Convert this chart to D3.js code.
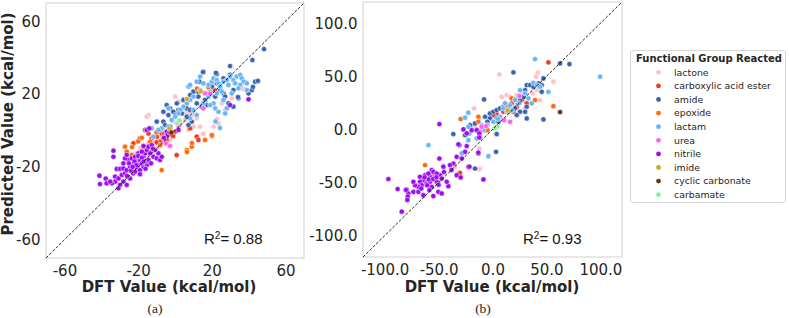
<!DOCTYPE html>
<html>
<head>
<meta charset="utf-8">
<script src="https://cdn.jsdelivr.net/npm/d3@7"></script>
<style>
  body { margin: 0; background: #fff; }
  svg { display: block; }
</style>
</head>
<body>
<div id="chart"></div>
<script>
// legend order of the hue groups
const groups = ["lactone", "carboxylic acid ester", "amide", "epoxide", "lactam",
                "urea", "nitrile", "imide", "cyclic carbonate", "carbamate"];
const palette = ["#ffc0cb", "#ef3b26", "#3a62ad", "#ff6a0a", "#66b5f6",
                 "#ff5ef2", "#9a0ef0", "#daa520", "#6b3510", "#90ee90"];

// panel (a): [DFT value, predicted value]
const aLactone = [[-14.4,8.5],[0.1,18.6],[1.9,15.8],[4.6,12.2],[6.4,10.3],[8.2,9.4],[10.0,8.5],[11.8,6.7],
  [5.5,5.8],[2.8,3.9],[-0.9,4.9],[-5.4,-0.6],[-7.2,-3.4],[-9.9,-5.2],[-12.6,-6.1],[-14.4,-7.0],[-17.1,-8.0],
  [-19.0,-9.8],[13.6,2.1],[15.4,-1.6],[20.9,2.1],[23.6,3.9],[37.2,23.2],[30.8,17.7],[25.4,14.9],[27.2,11.3],
  [-15.3,7.6],[10.0,2.1],[7.3,0.3],[-2.7,-5.2],[-4.5,-7.0],[-9.0,-8.9],[-11.7,-12.5],[-14.4,-14.4],
  [15.2,-1.9],[-26.0,-15.1],[-22.0,-13.0],[-18.0,-18.0],[36.9,22.8],[22.8,6.3]];
const aEster = [[-16.2,0.3],[-14.4,-1.6],[-22.6,-7.0],[-19.0,-4.3],[-12.6,-4.3],[-9.9,-3.4],[-8.1,-6.1],
  [-6.3,-4.3],[-4.5,-5.2],[-1.8,-2.5],[0.1,-0.6],[-2.7,1.2],[-7.2,-1.6],[8.2,1.2],[11.8,-3.4],[12.7,-5.2],
  [0.9,-13.5],[24.4,22.2],[21.5,22.0],[20.1,-3.0],[-10.0,-6.5],[-6.0,-2.0],[-1.0,-3.0]];
const aAmide = [[29.9,35.4],[42.0,38.7],[22.7,31.0],[15.4,32.3],[13.3,26.8],[10.0,21.3],[8.2,19.5],[12.7,18.6],
  [16.3,16.8],[19.1,20.4],[21.8,18.6],[24.5,22.2],[26.3,20.4],[27.2,18.6],[31.7,22.2],[34.4,17.7],[31.7,13.1],
  [29.0,14.9],[39.9,20.4],[41.7,22.2],[43.5,26.8],[-4.5,14.0],[-2.7,12.2],[-0.9,10.3],[-6.3,10.3],[-3.6,8.5],
  [0.1,8.5],[1.9,11.3],[3.7,9.4],[6.4,7.6],[9.1,4.9],[7.3,3.0],[-6.3,4.9],[-5.4,3.0],[-2.7,2.1],[-9.9,4.9],
  [-8.1,0.3],[1.0,14.9],[4.6,16.8],[11.8,14.9],[14.5,13.1],[17.3,14.0],[6.4,12.2],[8.2,11.3],[12.7,21.3],
  [20.0,24.1],[22.7,25.9],[26.3,28.6],[48.3,44.7],[38.0,26.6],[45.0,27.2],[42.3,23.9],[34.2,18.4],[29.8,30.5],
  [15.2,32.1],[22.2,31.6]];
const aEpoxide = [[-27.1,-8.9],[-26.2,-11.6],[-23.5,-13.4],[-17.1,-10.7],[-15.3,-9.8],[-13.5,-6.1],[-12.6,-8.9],
  [-11.7,-10.7],[-7.2,-21.7],[6.4,-10.7],[9.1,-8.9],[16.3,-5.2],[20.0,-2.5],[-20.0,-6.0],[-18.0,-4.0],
  [-10.0,-1.0],[-5.0,-3.0],[-22.0,-15.0],[-14.0,-12.0],[-8.0,-8.0],[18.2,23.7],[12.0,23.0],[6.5,-11.8],
  [9.2,-6.9],[-23.3,-9.1]];
const aLactam = [[7.3,24.1],[8.2,25.0],[11.8,26.8],[13.6,29.6],[15.4,25.9],[18.2,25.0],[20.0,26.8],[20.9,28.6],
  [22.7,27.7],[23.6,25.9],[24.5,24.1],[26.3,26.8],[28.1,27.7],[29.9,29.6],[31.7,27.7],[33.5,29.6],[35.4,30.5],
  [36.3,28.6],[37.2,26.8],[32.6,25.9],[29.0,25.0],[25.4,21.3],[22.7,20.4],[19.1,21.3],[17.3,20.4],[13.6,22.2],
  [10.0,18.6],[8.2,16.8],[6.4,14.9],[4.6,13.1],[2.8,11.3],[1.9,9.4],[0.1,7.6],[-1.8,5.8],[-3.6,2.1],[-7.2,1.2],
  [-9.0,0.3],[-11.7,-3.4],[-12.6,1.2],[18.2,18.6],[20.9,14.9],[21.8,12.2],[23.6,10.3],[28.1,12.2],[27.2,9.4],
  [15.4,14.9],[10.0,11.3],[39.0,22.2],[39.0,25.9],[-3.6,12.2],[35.4,25.0],[8.2,6.7],[11.8,8.5],[30.8,20.4],
  [34.4,23.2],[26.3,16.8],[19.1,14.0],[24.4,1.4],[22.0,5.0]];
const aUrea = [[16.3,20.4],[15.4,12.2],[19.0,20.3],[-2.7,-8.5],[-5.0,-7.0],[2.0,2.5]];
const aNitrile = [[-33.4,-11.1],[-33.4,-14.4],[-41.0,-24.8],[-40.7,-29.4],[-37.6,-26.4],[-37.1,-29.0],
  [-31.6,-21.1],[-29.8,-21.1],[-28.0,-20.8],[-32.5,-25.3],[-32.5,-28.1],[-30.7,-26.3],[-28.9,-24.4],
  [-27.1,-23.5],[-26.2,-21.7],[-24.4,-19.9],[-22.6,-18.9],[-25.3,-16.2],[-23.5,-15.3],[-21.7,-14.4],
  [-20.8,-17.1],[-19.0,-16.2],[-17.1,-14.4],[-16.2,-12.5],[-15.3,-10.7],[-19.9,-12.5],[-18.0,-11.6],
  [-14.4,-8.9],[-12.6,-8.0],[-13.5,-12.5],[-11.7,-14.4],[-9.9,-15.3],[-9.0,-12.5],[-10.8,-10.7],[-8.1,-16.2],
  [-7.2,-14.4],[-20.8,-20.8],[-19.0,-21.7],[-17.1,-19.9],[-15.3,-18.9],[-22.6,-23.5],[-24.4,-26.3],
  [-28.0,-28.1],[-29.8,-29.9],[-30.7,-31.7],[-34.3,-29.0],[-35.2,-28.1],[-26.2,-29.9],[-23.5,-21.7],
  [-21.7,-22.6],[-19.9,-18.9],[-18.0,-18.0],[-16.2,-17.1],[-14.4,-16.2],[-28.0,-18.0],[-27.1,-15.3],
  [-26.2,-13.4],[-17.1,-8.5],[-15.3,0.3],[-13.9,1.2],[-4.5,-0.6],[-4.1,-2.5],[1.9,0.3],[29.9,14.0],
  [39.9,17.1],[-6.0,-4.0],[-3.0,-1.0],[-22.0,-17.0],[-20.0,-14.0],[-18.0,-15.0],[-24.0,-22.0],[-26.0,-25.0],
  [-21.0,-19.0],[-23.0,-20.0],[-17.0,-17.0],[-25.0,-18.0],[-19.0,-24.0],[-16.0,-21.0],[-13.0,-18.0],
  [-12.0,-10.0]];
const aImide = [[6.5,17.3],[14.0,21.5],[-3.0,1.0]];
const aCarbonate = [[-2.0,-1.0]];
const aCarbamate = [[1.2,4.0],[2.5,5.5]];

// panel (b): [DFT value, predicted value]
const bLactone = [[6.4,51.9],[41.9,53.5],[56.4,45.0],[-17.1,19.9],[8.5,30.8],[13.2,32.4],[16.3,30.8],
  [22.5,32.4],[27.1,34.0],[37.3,34.0],[41.0,37.1],[44.1,27.7],[40.4,49.7],[-12.2,-17.8],[-11.5,-36.7],
  [-34.7,-35.1],[-48.6,-47.7],[-16.2,2.6],[12.0,25.0],[20.0,23.0],[28.0,28.0],[30.0,20.0],[-12.5,-37.5]];
const bEster = [[51.8,63.2],[3.9,14.5],[0.8,13.6],[10.1,16.7],[14.7,16.7],[17.8,24.6],[22.5,21.4],
  [27.1,27.7],[19.4,16.7],[31.7,24.6],[-30.1,-40.8],[-54.8,-41.4]];
const bAmide = [[71.3,61.6],[62.6,62.2],[19.4,53.8],[-7.8,28.3],[-36.3,-4.3],[3.3,-21.0],[-20.8,4.1],
  [-16.2,5.7],[47.2,9.5],[-2.3,15.1],[0.8,16.7],[3.9,18.3],[7.0,19.9],[10.1,21.4],[14.7,19.9],[17.8,18.3],
  [20.9,19.9],[24.0,24.6],[25.5,27.7],[28.7,30.8],[30.2,37.1],[31.7,41.8],[34.8,41.8],[37.9,40.3],[42.5,43.4],
  [45.6,41.8],[47.2,48.1],[45.6,35.5],[31.7,21.4],[30.2,16.7],[25.5,16.7],[22.5,13.6],[31.7,10.4],[3.9,10.4],
  [5.5,7.3],[-2.3,10.4],[-4.7,7.3],[-6.9,-0.6],[3.9,-4.3],[-25.4,-5.3],[-16.2,-36.7],[-6.9,12.0]];
const bEpoxide = [[-29.5,9.8],[-13.1,12.0],[-13.1,7.3],[-4.7,-0.6],[17.8,29.3],[20.9,28.3],[39.4,27.7],
  [56.4,22.0],[-62.5,-33.5],[-45.5,-34.5],[-55.4,-42.0],[13.2,23.0]];
const bLactam = [[39.4,66.3],[99.7,49.7],[-59.4,-14.7],[-22.4,15.8],[-25.4,11.1],[-22.4,2.6],[-21.4,-3.7],
  [-22.4,-10.0],[-14.6,-8.4],[-10.0,4.1],[-8.4,-0.6],[-4.7,4.1],[-3.8,-25.1],[11.6,24.6],[16.3,23.0],
  [20.9,27.7],[25.5,37.1],[30.2,34.0],[37.9,44.0],[41.0,41.8],[44.1,40.3],[51.8,35.5],[33.3,29.3],[36.4,24.6],
  [13.2,16.7],[7.0,12.0],[0.8,7.3],[-11.5,-6.8],[-28.5,-22.5],[10.0,20.0],[18.0,18.0],[25.0,25.0],[5.0,10.0]];
const bUrea = [[-10.0,2.6],[-6.0,3.2],[-11.5,-2.1],[16.3,7.3],[24.9,31.5],[10.7,8.9]];
const bNitrile = [[-49.2,5.1],[-27.0,0.1],[-23.9,-3.7],[-19.3,-0.6],[-14.6,-0.6],[-12.2,-3.7],[-30.7,-14.7],
  [-23.9,-15.6],[-25.4,-21.0],[-33.2,-25.7],[-28.5,-27.3],[-36.3,-32.0],[-39.4,-33.5],[-45.5,-35.1],
  [-49.2,-27.3],[-56.3,-38.2],[-48.6,-43.0],[-53.3,-44.5],[-57.9,-44.5],[-61.0,-46.1],[-64.1,-47.7],
  [-67.2,-49.2],[-67.2,-44.5],[-62.5,-43.0],[-59.4,-41.4],[-54.8,-39.8],[-51.7,-41.4],[-65.6,-52.4],
  [-68.7,-53.9],[-71.8,-52.4],[-73.3,-49.2],[-79.5,-56.5],[-78.0,-60.2],[-73.3,-58.7],[-68.7,-58.7],
  [-64.1,-61.8],[-54.8,-62.7],[-50.2,-58.7],[-47.1,-60.2],[-40.9,-53.3],[-42.4,-49.2],[-33.2,-43.0],
  [-29.5,-45.1],[-22.4,-35.1],[-8.4,-47.0],[-13.1,-22.5],[-12.2,-7.5],[-61.0,-50.8],[-57.9,-49.2],
  [-56.3,-54.0],[-51.7,-49.2],[-47.1,-46.1],[-96.5,-46.6],[-84.1,-77.3],[-87.9,-56.0],[-80.2,-56.9],
  [-78.6,-63.2],[-78.9,-66.3],[-31.6,-13.9],[-13.1,-21.8],[-21.4,-35.0],[-59.0,-47.0],[-63.0,-45.0],
  [-55.0,-46.5],[-52.0,-45.0],[-60.5,-52.5],[-66.0,-55.5],[-58.5,-57.0],[-50.0,-52.0],[-45.0,-40.0],
  [-38.0,-38.0]];
const bImide = [[14.0,18.0]];
const bCarbonate = [[62.6,16.4]];
const bCarbamate = [[4.5,2.6],[2.0,1.0]];

const aTicks = [-60, -20, 20, 60];
const bTicks = [-100, -50, 0, 50, 100];

const aSeries = [aLactone, aEster, aAmide, aEpoxide, aLactam, aUrea, aNitrile, aImide, aCarbonate, aCarbamate];
const bSeries = [bLactone, bEster, bAmide, bEpoxide, bLactam, bUrea, bNitrile, bImide, bCarbonate, bCarbamate];

const W = 789, H = 318;
const textColor = "#262626";

let svg = d3.select("#chart").append("svg")
  .attr("width", W).attr("height", H);

let color = d3.scaleOrdinal().domain(groups).range(palette);

function drawPanel(series, opts) {
  let x = d3.scaleLinear().domain(opts.domain).range([opts.left, opts.right]);
  let y = d3.scaleLinear().domain(opts.domain).range([opts.bottom, opts.top]);

  let g = svg.append("g");

  // frame
  g.append("rect")
    .attr("x", opts.left).attr("y", opts.top)
    .attr("width", opts.right - opts.left).attr("height", opts.bottom - opts.top)
    .attr("fill", "none").attr("stroke", "#d9d9d9").attr("stroke-width", 1.2);

  // points, one group per hue
  let rows = [];
  series.forEach(function(s, i) {
    s.forEach(function(p) { rows.push({group: groups[i], dft: p[0], pred: p[1]}); });
  });
  g.append("g").selectAll("circle")
    .data(rows)
    .enter().append("circle")
      .attr("cx", d => x(d.dft))
      .attr("cy", d => y(d.pred))
      .attr("r", 2.6)
      .attr("fill", d => color(d.group))
      .attr("stroke", "#fff")
      .attr("stroke-width", 0.5);

  // y = x reference line
  g.append("line")
    .attr("x1", x(opts.domain[0])).attr("y1", y(opts.domain[0]))
    .attr("x2", x(opts.domain[1])).attr("y2", y(opts.domain[1]))
    .attr("stroke", "#111").attr("stroke-width", 0.9)
    .attr("stroke-dasharray", "3,1.6");

  // axes
  let xAxis = g.append("g")
    .attr("transform", "translate(0," + opts.bottom + ")")
    .call(d3.axisBottom(x).tickValues(opts.ticks).tickSize(0).tickPadding(7).tickFormat(opts.fmt));
  let yAxis = g.append("g")
    .attr("transform", "translate(" + opts.left + ",0)")
    .call(d3.axisLeft(y).tickValues(opts.ticks).tickSize(0).tickPadding(5.5).tickFormat(opts.fmt));
  [xAxis, yAxis].forEach(function(ax) {
    ax.select(".domain").remove();
    ax.selectAll("text")
      .attr("font-family", "DejaVu Sans")
      .attr("font-size", 15)
      .attr("fill", textColor);
  });

  g.append("text")
    .attr("x", opts.xLabelX).attr("y", 292)
    .attr("text-anchor", "middle")
    .attr("font-family", "DejaVu Sans").attr("font-weight", "bold")
    .attr("font-size", 15).attr("fill", textColor)
    .text("DFT Value (kcal/mol)");

  // R squared annotation
  let r2 = g.append("text")
    .attr("x", opts.r2x).attr("y", 244)
    .attr("font-family", "Liberation Sans")
    .attr("font-size", 15).attr("fill", "#111");
  r2.append("tspan").text("R");
  r2.append("tspan").attr("font-size", 10).attr("dy", -5.5).text("2");
  r2.append("tspan").attr("dy", 5.5).text("= " + opts.r2);

  g.append("text")
    .attr("x", opts.capX).attr("y", 313)
    .attr("text-anchor", "middle")
    .attr("font-family", "Liberation Serif")
    .attr("font-size", 13.5).attr("fill", "#222")
    .text(opts.caption);
}

drawPanel(aSeries, {
  domain: [-70, 70], left: 46, right: 304, top: 3, bottom: 258,
  ticks: aTicks, fmt: d => String(d), xLabelX: 169,
  r2: "0.88", r2x: 204, caption: "(a)", capX: 155
});

drawPanel(bSeries, {
  domain: [-120, 120], left: 363, right: 622, top: 2, bottom: 257,
  ticks: bTicks, fmt: d => d.toFixed(1), xLabelX: 492,
  r2: "0.93", r2x: 523, caption: "(b)", capX: 483
});

// shared y label
svg.append("text")
  .attr("transform", "translate(13,124) rotate(-90)")
  .attr("text-anchor", "middle")
  .attr("font-family", "DejaVu Sans").attr("font-weight", "bold")
  .attr("font-size", 15).attr("fill", textColor)
  .text("Predicted Value (kcal/mol)");

// legend
let legend = svg.append("g");
legend.append("rect")
  .attr("x", 630.5).attr("y", 50.5).attr("width", 155).attr("height", 152)
  .attr("rx", 2.5)
  .attr("fill", "#fff").attr("stroke", "#d6d6d6");
legend.append("text")
  .attr("x", 709).attr("y", 62)
  .attr("text-anchor", "middle")
  .attr("font-family", "DejaVu Sans").attr("font-weight", "bold")
  .attr("font-size", 10).attr("fill", textColor)
  .text("Functional Group Reacted");
let item = legend.selectAll("g.item")
  .data(groups)
  .enter().append("g")
    .attr("class", "item")
    .attr("transform", (d, i) => "translate(0," + (72.3 + i * 13.6) + ")");
item.append("circle")
  .attr("cx", 658.5).attr("cy", 0).attr("r", 2.4)
  .attr("fill", d => color(d));
item.append("text")
  .attr("x", 674).attr("y", 0).attr("dy", "0.35em")
  .attr("font-family", "DejaVu Sans")
  .attr("font-size", 9.4).attr("fill", textColor)
  .text(d => d);
</script>
</body>
</html>
